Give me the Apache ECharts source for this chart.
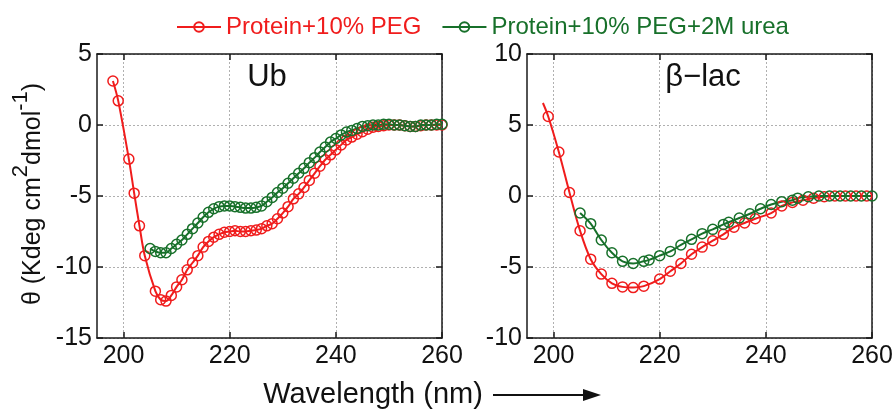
<!DOCTYPE html>
<html><head><meta charset="utf-8">
<script src="https://cdn.jsdelivr.net/npm/echarts@6/dist/echarts.min.js"></script>
<style>html,body{margin:0;padding:0;background:#fff}#c{width:896px;height:410px}</style>
</head><body><div id="c"></div>
<script>
// ---- data ----
const seriesNames = ['Protein+10% PEG', 'Protein+10% PEG+2M urea'];
const panelTitles = ['Ub', 'β−lac'];
const xTicks = [200, 220, 240, 260];
const ubYRange = [-15, 5];
const lacYRange = [-10, 10];

// Ub, Protein+10% PEG
const ubPegX = [198,199,201,202,203,204,206,207,208,209,210,211,212,213,214,215,216,217,218,219,220,221,222,223,224,225,226,227,228,229,230,231,232,233,234,235,236,237,238,239,240,241,242,243,244,245,246,247,248,249,250,251,252,253,254,255,256,257,258,259,260];
const ubPegY = [3.1,1.7,-2.4,-4.8,-7.1,-9.2,-11.7,-12.3,-12.4,-12.0,-11.4,-10.9,-10.2,-9.7,-9.2,-8.6,-8.2,-7.9,-7.7,-7.55,-7.5,-7.45,-7.5,-7.5,-7.45,-7.4,-7.3,-7.1,-6.95,-6.6,-6.2,-5.75,-5.2,-4.85,-4.4,-3.9,-3.4,-2.9,-2.45,-2.1,-1.75,-1.4,-1.05,-0.85,-0.65,-0.47,-0.3,-0.15,-0.1,-0.05,0,0,0,-0.05,-0.1,-0.1,-0.05,0,0,0,0];

// Ub, Protein+10% PEG+2M urea
const ubUreaX = [205,206,207,208,209,210,211,212,213,214,215,216,217,218,219,220,221,222,223,224,225,226,227,228,229,230,231,232,233,234,235,236,237,238,239,240,241,242,243,244,245,246,247,248,249,250,251,252,253,254,255,256,257,258,259,260];
const ubUreaY = [-8.7,-8.9,-9.0,-9.0,-8.7,-8.4,-8.1,-7.7,-7.3,-6.9,-6.5,-6.15,-5.9,-5.75,-5.7,-5.7,-5.75,-5.8,-5.85,-5.85,-5.8,-5.7,-5.4,-5.1,-4.75,-4.45,-4.1,-3.75,-3.4,-3.05,-2.65,-2.3,-1.9,-1.55,-1.2,-0.95,-0.7,-0.5,-0.38,-0.25,-0.1,-0.05,0,0,0.05,0.05,0,0,-0.05,-0.1,-0.1,0,0,0,0.05,0.05];

// β-lac, Protein+10% PEG (first point: line start only)
const lacPegX = [198,199,201,203,205,207,209,211,213,215,217,220,222,224,226,228,230,232,234,236,238,241,243,245,247,249,251,253,255,257,259];
const lacPegY = [6.55,5.6,3.1,0.25,-2.45,-4.45,-5.5,-6.15,-6.4,-6.45,-6.35,-5.85,-5.3,-4.75,-4.1,-3.6,-3.15,-2.7,-2.2,-1.9,-1.6,-1.2,-0.7,-0.45,-0.3,-0.15,-0.05,0,0,0,0];

// β-lac, Protein+10% PEG+2M urea
const lacUreaX = [205,207,209,211,213,215,217,218,220,222,224,226,228,230,232,233,235,237,239,241,243,245,246,248,250,252,254,256,258,260];
const lacUreaY = [-1.2,-1.95,-3.1,-4.0,-4.6,-4.75,-4.6,-4.5,-4.2,-3.9,-3.45,-3.05,-2.65,-2.35,-2.0,-1.85,-1.55,-1.25,-0.9,-0.6,-0.4,-0.3,-0.15,-0.05,0,0,0,0,0,0];

// ---- styling ----
const RED = '#f01c1c';
const GREEN = '#17702a';
const FONT = 'Liberation Sans, Arial, sans-serif';
const axisColor = '#1a1a1a';
const gridStyle = {color: '#b0b0b0', width: 1, type: [2, 2]};

const grids = [
  {left: 97, top: 54, width: 345, height: 284},
  {left: 527, top: 54, width: 345, height: 284}
];
const yRanges = [ubYRange, lacYRange];

const xAxes = [], yAxes = [];
for (let i = 0; i < 2; i++) {
  xAxes.push({
    gridIndex: i, type: 'value', min: 195, max: 260, position: 'bottom',
    axisLine: {show: true, onZero: false, lineStyle: {color: axisColor, width: 1.5}},
    axisTick: {show: true, inside: true, length: 6, customValues: xTicks, lineStyle: {color: axisColor, width: 1.5}},
    axisLabel: {customValues: xTicks, fontSize: 25, fontFamily: FONT, color: '#111', margin: 6},
    splitLine: {show: true, lineStyle: gridStyle}
  });
}
for (let i = 0; i < 2; i++) {
  xAxes.push({
    gridIndex: i, type: 'value', min: 195, max: 260, position: 'top',
    axisLine: {show: true, onZero: false, lineStyle: {color: axisColor, width: 1.5}},
    axisTick: {show: true, inside: true, length: 6, customValues: xTicks, lineStyle: {color: axisColor, width: 1.5}},
    axisLabel: {show: false, customValues: xTicks},
    splitLine: {show: false}
  });
}
for (let i = 0; i < 2; i++) {
  yAxes.push({
    gridIndex: i, type: 'value', min: yRanges[i][0], max: yRanges[i][1], interval: 5, position: 'left',
    axisLine: {show: true, onZero: false, lineStyle: {color: axisColor, width: 1.5}},
    axisTick: {show: true, inside: true, length: 6, lineStyle: {color: axisColor, width: 1.5}},
    axisLabel: {fontSize: 25, fontFamily: FONT, color: '#111', margin: 5},
    splitLine: {show: true, lineStyle: gridStyle}
  });
}
for (let i = 0; i < 2; i++) {
  yAxes.push({
    gridIndex: i, type: 'value', min: yRanges[i][0], max: yRanges[i][1], interval: 5, position: 'right',
    axisLine: {show: true, onZero: false, lineStyle: {color: axisColor, width: 1.5}},
    axisTick: {show: true, inside: true, length: 6, lineStyle: {color: axisColor, width: 1.5}},
    axisLabel: {show: false},
    splitLine: {show: false}
  });
}

function zip(xs, ys) { return xs.map((x, k) => [x, ys[k]]); }

function mk(name, color, panel, xs, ys, lineOnlyFirst) {
  let data = zip(xs, ys);
  if (lineOnlyFirst) {
    data = data.map((d, k) => k === 0 ? {value: d, symbol: 'none'} : d);
  }
  return {
    name: name, type: 'line', xAxisIndex: panel, yAxisIndex: panel,
    data: data, smooth: 0.35, symbol: 'circle', symbolSize: 10,
    showAllSymbol: true,
    lineStyle: {color: color, width: 2},
    itemStyle: {color: 'rgba(255,255,255,0)', borderColor: color, borderWidth: 1.5},
    emphasis: {disabled: true},
    animation: false
  };
}

const series = [
  mk(seriesNames[0], RED, 0, ubPegX, ubPegY, false),
  mk(seriesNames[1], GREEN, 0, ubUreaX, ubUreaY, false),
  mk(seriesNames[0], RED, 1, lacPegX, lacPegY, true),
  mk(seriesNames[1], GREEN, 1, lacUreaX, lacUreaY, false)
];

const chart = echarts.init(document.getElementById('c'), null, {renderer: 'canvas'});
chart.setOption({
  animation: false,
  backgroundColor: '#fff',
  color: [RED, GREEN],
  grid: grids,
  xAxis: xAxes,
  yAxis: yAxes,
  legend: {
    left: 171, top: 10, itemWidth: 44, itemHeight: 12, itemGap: 20,
    data: [
      {name: seriesNames[0], textStyle: {color: RED}},
      {name: seriesNames[1], textStyle: {color: GREEN}}
    ],
    textStyle: {fontSize: 24, fontFamily: FONT, padding: [0, 0, 0, 0]},
    selectedMode: false
  },
  series: series,
  graphic: [
    {type: 'text', x: 267, y: 77, style: {text: panelTitles[0], fontSize: 31, fontFamily: FONT, fill: '#111', align: 'center', verticalAlign: 'middle'}},
    {type: 'text', x: 703, y: 77, style: {text: panelTitles[1], fontSize: 31, fontFamily: FONT, fill: '#111', align: 'center', verticalAlign: 'middle'}},
    {type: 'text', x: 28, y: 194, rotation: Math.PI / 2,
     style: {
       text: '{a|θ (Kdeg cm}{s|2}{a|dmol}{s|-1}{a|)}',
       align: 'center', verticalAlign: 'middle',
       rich: {
         a: {fontSize: 25, fontFamily: FONT, fill: '#111', lineHeight: 36, verticalAlign: 'bottom'},
         s: {fontSize: 22, fontFamily: FONT, fill: '#111', lineHeight: 22, verticalAlign: 'top'}
       }
     }},
    {type: 'text', x: 373, y: 395, style: {text: 'Wavelength (nm)', fontSize: 29, fontFamily: FONT, fill: '#111', align: 'center', verticalAlign: 'middle'}},
    {type: 'line', shape: {x1: 493, y1: 395, x2: 588, y2: 395}, style: {stroke: '#111', lineWidth: 2}},
    {type: 'polygon', shape: {points: [[601, 395], [583, 389], [583, 401]]}, style: {fill: '#111'}}
  ]
});
</script></body></html>
